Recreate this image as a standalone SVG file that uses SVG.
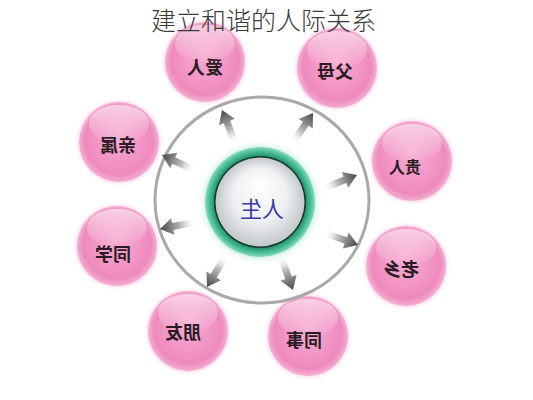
<svg xmlns="http://www.w3.org/2000/svg" width="533" height="400" viewBox="0 0 533 400">
<defs>
  <radialGradient id="pink" cx="0.5" cy="0.5" r="0.5" fx="0.5" fy="0.4">
    <stop offset="0" stop-color="#f7acd2"/>
    <stop offset="0.5" stop-color="#f398c7"/>
    <stop offset="0.85" stop-color="#ee8abd"/>
    <stop offset="1" stop-color="#f4b0d2"/>
  </radialGradient>
  <linearGradient id="gloss" x1="0" y1="0" x2="0" y2="1">
    <stop offset="0" stop-color="#fff" stop-opacity="0.6"/>
    <stop offset="1" stop-color="#fff" stop-opacity="0"/>
  </linearGradient>
  <radialGradient id="halo" cx="0.5" cy="0.5" r="0.5">
    <stop offset="0.85" stop-color="#f5b8d6" stop-opacity="0.6"/>
    <stop offset="1" stop-color="#f5b8d6" stop-opacity="0"/>
  </radialGradient>
  <linearGradient id="arrg" x1="0" y1="0" x2="1" y2="0">
    <stop offset="0" stop-color="#ffffff" stop-opacity="0"/>
    <stop offset="0.4" stop-color="#bdbdbd"/>
    <stop offset="1" stop-color="#444444"/>
  </linearGradient>
  <radialGradient id="greenglow" cx="0.5" cy="0.5" r="0.5">
    <stop offset="0.8" stop-color="#9fe0c8" stop-opacity="0.9"/>
    <stop offset="1" stop-color="#d8f3ea" stop-opacity="0"/>
  </radialGradient>
  <radialGradient id="greenring" cx="0.5" cy="0.5" r="0.5">
    <stop offset="0.8" stop-color="#1f7a5c"/>
    <stop offset="0.87" stop-color="#2fa67f"/>
    <stop offset="0.95" stop-color="#5cc8a0"/>
    <stop offset="1" stop-color="#8fdcc0"/>
  </radialGradient>
  <radialGradient id="core" cx="0.5" cy="0.5" r="0.5" fx="0.5" fy="0.3">
    <stop offset="0" stop-color="#ffffff"/>
    <stop offset="0.6" stop-color="#eef0f1"/>
    <stop offset="1" stop-color="#c3c8cb"/>
  </radialGradient>
  <path id="arr" d="M-36,-3.5 L-13,-3.5 L-13,-8.5 L0,0 L-13,8.5 L-13,3.5 L-36,3.5 Z"/>
</defs>
<style>
  .title { font-family: "Noto Sans CJK SC", "Noto Sans", sans-serif; font-size: 25px; font-weight: 300; fill: #3a3a3a; }
  .bub { fill: url(#pink); }
  .halo { fill: url(#halo); }
  .gl { fill: url(#gloss); }
  .lbl { font-family: "Noto Sans CJK SC", "Noto Sans", sans-serif; font-size: 18px; font-weight: bold; fill: #2a1c24; text-anchor: middle; dominant-baseline: central; }
  .ctr { font-family: "Noto Sans CJK SC", "Noto Sans", sans-serif; font-size: 22px; fill: #3b3ba8; text-anchor: middle; dominant-baseline: central; }
  .a { fill: url(#arrg); }
</style>
<rect width="533" height="400" fill="#ffffff"/>

<g id="node-airen">
  <circle class="halo" cx="205" cy="62" r="44"/>
  <circle class="bub" cx="205" cy="62" r="40"/>
  <ellipse class="gl" cx="205" cy="44" rx="30" ry="19"/>
  <text class="lbl" transform="translate(205,66) scale(-1,1)">爱人</text>
</g>
<g id="node-fumu">
  <circle class="halo" cx="337" cy="68" r="44"/>
  <circle class="bub" cx="337" cy="68" r="40"/>
  <ellipse class="gl" cx="337" cy="50" rx="30" ry="19"/>
  <text class="lbl" transform="translate(335,70) scale(-1,1)">父母</text>
</g>
<g id="node-qinshu">
  <circle class="halo" cx="119" cy="142" r="44"/>
  <circle class="bub" cx="119" cy="142" r="40"/>
  <ellipse class="gl" cx="119" cy="124" rx="30" ry="19"/>
  <text class="lbl" transform="translate(118,144) scale(-1,1)">亲属</text>
</g>
<g id="node-guiren">
  <circle class="halo" cx="412" cy="161" r="44"/>
  <circle class="bub" cx="412" cy="161" r="40"/>
  <ellipse class="gl" cx="412" cy="143" rx="30" ry="19"/>
  <text class="lbl" style="font-size:16px" transform="translate(405,166) scale(-1,1)">贵人</text>
</g>
<g id="node-tongxue">
  <circle class="halo" cx="117" cy="246" r="44"/>
  <circle class="bub" cx="117" cy="246" r="40"/>
  <ellipse class="gl" cx="117" cy="228" rx="30" ry="19"/>
  <text class="lbl" transform="translate(113,253) scale(-1,1)">同学</text>
</g>
<g id="node-laoxiang">
  <circle class="halo" cx="406" cy="266" r="44"/>
  <circle class="bub" cx="406" cy="266" r="40"/>
  <ellipse class="gl" cx="406" cy="248" rx="30" ry="19"/>
  <text class="lbl" transform="translate(401,268) scale(-1,1)">老乡</text>
</g>
<g id="node-pengyou">
  <circle class="halo" cx="188" cy="331" r="44"/>
  <circle class="bub" cx="188" cy="331" r="40"/>
  <ellipse class="gl" cx="188" cy="313" rx="30" ry="19"/>
  <text class="lbl" transform="translate(183,331) scale(-1,1)">朋友</text>
</g>
<g id="node-tongshi">
  <circle class="halo" cx="308" cy="336" r="44"/>
  <circle class="bub" cx="308" cy="336" r="40"/>
  <ellipse class="gl" cx="308" cy="318" rx="30" ry="19"/>
  <text class="lbl" transform="translate(304,339) scale(-1,1)">同事</text>
</g>

<g id="ring">
  <ellipse cx="262" cy="200" rx="107" ry="103" fill="none" stroke="#a9a9a9" stroke-width="3"/>
</g>

<g id="connectors">
  <use href="#arr" class="a" transform="translate(222,110) rotate(-112)"/>
  <use href="#arr" class="a" transform="translate(313,113) rotate(-56)"/>
  <use href="#arr" class="a" transform="translate(162,155) rotate(-155)"/>
  <use href="#arr" class="a" transform="translate(357,175) rotate(-22)"/>
  <use href="#arr" class="a" transform="translate(160,229) rotate(169)"/>
  <use href="#arr" class="a" transform="translate(358,245) rotate(20)"/>
  <use href="#arr" class="a" transform="translate(207,287) rotate(121)"/>
  <use href="#arr" class="a" transform="translate(293,290) rotate(70)"/>
</g>

<g id="node-rensheng">
  <circle cx="260" cy="202" r="62" fill="url(#greenglow)"/>
  <circle cx="260" cy="202" r="55" fill="url(#greenring)"/>
  <circle cx="260" cy="202" r="46" fill="#16392d"/>
  <circle cx="260" cy="202" r="44.5" fill="url(#core)"/>
  <text class="ctr" transform="translate(262,207) scale(-1,1)">人生</text>
</g>

<g id="title">
  <text class="title" x="151" y="30">建立和谐的人际关系</text>
</g>
</svg>
